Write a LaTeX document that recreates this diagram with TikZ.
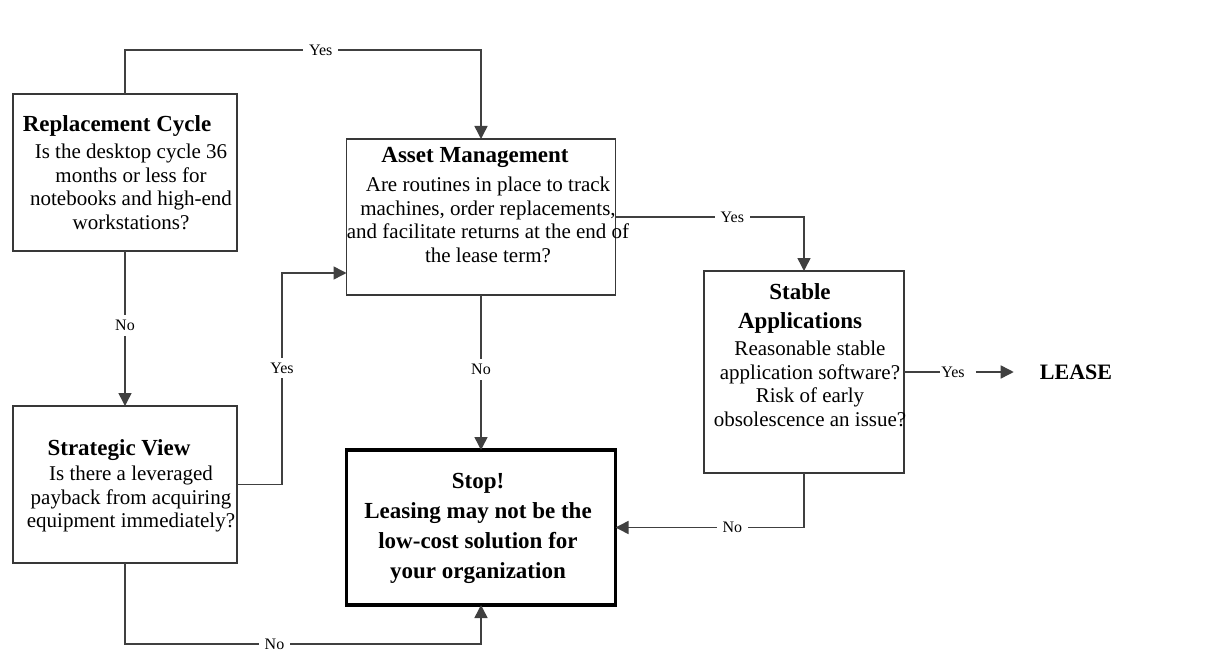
\documentclass[tikz,border=0pt]{standalone}
\usepackage{fontspec}
\setmainfont{Liberation Serif}
\usetikzlibrary{arrows.meta}
\begin{document}
\begin{tikzpicture}[x=1pt,y=-1pt,
  frame/.style={draw=black!78, line width=1.6pt, inner sep=0pt, outer sep=0pt},
  stopframe/.style={draw=black, line width=3.4pt, inner sep=0pt, outer sep=0pt},
  title/.style={font=\fontsize{23}{29}\selectfont\bfseries, align=center, inner sep=0pt, anchor=base},
  body/.style={font=\fontsize{21}{23.5}\selectfont, align=center, inner sep=0pt},
  stoptext/.style={font=\fontsize{23}{30}\selectfont\bfseries, align=center, inner sep=0pt},
  conn/.style={draw=black!75, line width=1.5pt},
  arr/.style={conn, -{Triangle[length=13pt,width=13pt]}},
  lbl/.style={font=\fontsize{16}{18}\selectfont, fill=white, inner xsep=6pt, inner ysep=5pt}]

\useasboundingbox[fill=white] (0,0) rectangle (1215,655);

% decision boxes
\node[frame, minimum width=224pt, minimum height=157pt] (rc) at (125,172.5) {};
\node[frame, minimum width=224pt, minimum height=157pt] (sv) at (125,484.5) {};
\node[frame, minimum width=269pt, minimum height=156pt] (am) at (481,217) {};
\node[frame, minimum width=200pt, minimum height=202pt] (sa) at (804,372) {};
\node[stopframe, minimum width=269pt, minimum height=155pt] (stop) at (481,527.5) {};

% box texts
\node[title] (rct) at (117,132) {Replacement Cycle};
\node[body] (rcb) at (131,187) {Is the desktop cycle 36\\months or less for\\notebooks and high-end\\workstations?};

\node[title] (svt) at (119,455) {Strategic View};
\node[body] (svb) at (131,499) {Is there a leveraged\\payback from acquiring\\equipment immediately?};

\node[title] (amt) at (475,163) {Asset Management};
\node[body] (amb) at (488,220) {Are routines in place to track\\machines, order replacements,\\and facilitate returns at the end of\\the lease term?};

\node[title] (sat) at (800,328) {Stable\\Applications};
\node[body] (sab) at (810,384) {Reasonable stable\\application software?\\Risk of early\\obsolescence an issue?};

\node[stoptext] (stopt) at (478,528) {Stop!\\Leasing may not be the\\low-cost solution for\\your organization};

\node[font=\fontsize{22}{24}\selectfont\bfseries, inner sep=0pt] (lease) at (1076,372) {LEASE};

% turning points of the routed connectors
\coordinate (t1) at (125,50);
\coordinate (t2) at (481,50);
\coordinate (s1) at (282,484.5);
\coordinate (s2) at (282,273);
\coordinate (b1) at (125,644);
\coordinate (b2) at (481,644);

% connectors
\draw[arr] (rc.north) -- (t1) -- node[lbl, pos=0.55] {Yes} (t2) -- (am.north);
\draw[arr] (rc.south) -- node[lbl, pos=0.48] {No} (sv.north);
\draw[arr] (sv.east) -- (s1) -- node[lbl, pos=0.55] {Yes} (s2) -- (s2 -| am.west);
\draw[arr] (sv.south) -- (b1) -- node[lbl, pos=0.42] {No} (b2) -- (stop.south);
\draw[arr] (am.south) -- node[lbl, pos=0.48] {No} (stop.north);
\draw[arr] (am.east) -| node[lbl, pos=0.31] {Yes} (sa.north);
\draw[arr] (sa.south) |- node[lbl, pos=0.69] {No} (stop.east);

\node[lbl, inner xsep=1pt] (yesl) at (953,372) {Yes};
\draw[conn] (sa.east) -- (yesl.west);
\draw[arr, shorten <=10pt, shorten >=26pt] (yesl.east) -- (lease.west);

\end{tikzpicture}
\end{document}
